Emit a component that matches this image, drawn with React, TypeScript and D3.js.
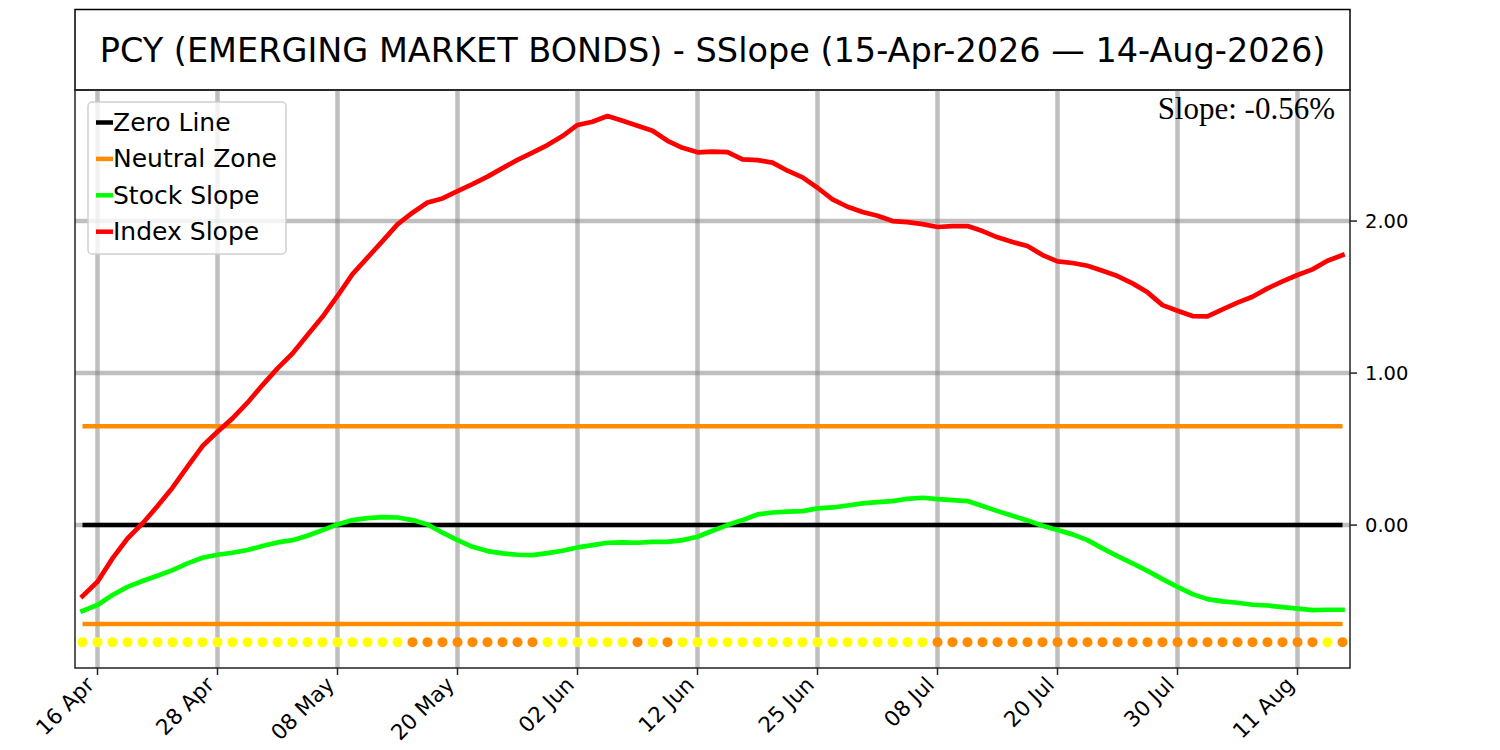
import React, { useEffect, useRef } from 'react';
import * as d3 from 'd3';

// trading days, 15-Apr-2026 .. 14-Aug-2026
const dates = [
  '2026-04-15', '2026-04-16', '2026-04-17', '2026-04-20', '2026-04-21', '2026-04-22', '2026-04-23', '2026-04-24',
  '2026-04-27', '2026-04-28', '2026-04-29', '2026-04-30', '2026-05-01', '2026-05-04', '2026-05-05', '2026-05-06',
  '2026-05-07', '2026-05-08', '2026-05-11', '2026-05-12', '2026-05-13', '2026-05-14', '2026-05-15', '2026-05-18',
  '2026-05-19', '2026-05-20', '2026-05-21', '2026-05-22', '2026-05-26', '2026-05-27', '2026-05-28', '2026-05-29',
  '2026-06-01', '2026-06-02', '2026-06-03', '2026-06-04', '2026-06-05', '2026-06-08', '2026-06-09', '2026-06-10',
  '2026-06-11', '2026-06-12', '2026-06-15', '2026-06-16', '2026-06-17', '2026-06-18', '2026-06-22', '2026-06-23',
  '2026-06-24', '2026-06-25', '2026-06-26', '2026-06-29', '2026-06-30', '2026-07-01', '2026-07-02', '2026-07-06',
  '2026-07-07', '2026-07-08', '2026-07-09', '2026-07-10', '2026-07-13', '2026-07-14', '2026-07-15', '2026-07-16',
  '2026-07-17', '2026-07-20', '2026-07-21', '2026-07-22', '2026-07-23', '2026-07-24', '2026-07-27', '2026-07-28',
  '2026-07-29', '2026-07-30', '2026-07-31', '2026-08-03', '2026-08-04', '2026-08-05', '2026-08-06', '2026-08-07',
  '2026-08-10', '2026-08-11', '2026-08-12', '2026-08-13', '2026-08-14',
];

const stockSlope = [
  -0.564, -0.526, -0.46, -0.406, -0.368, -0.333, -0.296, -0.252, -0.215, -0.195,
  -0.182, -0.164, -0.138, -0.114, -0.099, -0.07, -0.033, 0.004, 0.033, 0.046,
  0.053, 0.05, 0.033, 0.004, -0.05, -0.099, -0.143, -0.171, -0.186, -0.195,
  -0.198, -0.184, -0.169, -0.147, -0.132, -0.116, -0.114, -0.116, -0.11, -0.11,
  -0.099, -0.077, -0.037, 0.0, 0.033, 0.07, 0.083, 0.088, 0.092, 0.11,
  0.116, 0.129, 0.143, 0.151, 0.158, 0.173, 0.18, 0.171, 0.164, 0.158,
  0.125, 0.092, 0.061, 0.031, -0.004, -0.033, -0.061, -0.099, -0.153, -0.204,
  -0.252, -0.301, -0.355, -0.406, -0.454, -0.487, -0.502, -0.511, -0.524, -0.529,
  -0.539, -0.55, -0.559, -0.557, -0.557,
];

const indexSlope = [
  -0.467, -0.373, -0.219, -0.088, 0.011, 0.125, 0.246, 0.384, 0.52, 0.614,
  0.702, 0.805, 0.921, 1.031, 1.129, 1.25, 1.37, 1.507, 1.651, 1.759,
  1.868, 1.978, 2.055, 2.122, 2.149, 2.197, 2.243, 2.292, 2.348, 2.402,
  2.45, 2.5, 2.559, 2.632, 2.653, 2.691, 2.66, 2.627, 2.594, 2.528,
  2.482, 2.452, 2.456, 2.454, 2.406, 2.401, 2.384, 2.331, 2.287, 2.219,
  2.143, 2.094, 2.059, 2.035, 2.0, 1.993, 1.98, 1.961, 1.967, 1.967,
  1.934, 1.893, 1.862, 1.836, 1.776, 1.735, 1.724, 1.706, 1.673, 1.638,
  1.59, 1.531, 1.447, 1.41, 1.375, 1.373, 1.419, 1.463, 1.502, 1.557,
  1.603, 1.645, 1.682, 1.739, 1.776,
];

// 0 = yellow, 1 = orange
const zoneSignal = [
  0, 0, 0, 0, 0, 0, 0, 0, 0, 0, 0, 0, 0, 0, 0, 0, 0, 0, 0, 0, 0, 0,
  1, 1, 1, 1, 1, 1, 1, 1, 1,
  0, 0, 0, 0, 0, 0,
  1, 0, 1,
  0, 0, 0, 0, 0, 0, 0, 0, 0, 0, 0, 0, 0, 0, 0, 0, 0,
  1, 1, 1, 1, 1, 1, 1, 1, 1, 1, 1, 1, 1, 1, 1, 1, 1, 1, 1, 1, 1, 1, 1, 1, 1, 1,
  0, 1,
];

const tickDates = [
  '2026-04-16', '2026-04-28', '2026-05-08', '2026-05-20', '2026-06-02', '2026-06-12',
  '2026-06-25', '2026-07-08', '2026-07-20', '2026-07-30', '2026-08-11',
];
const yTicks = [0, 1, 2];
const neutralZone = 0.65;
const dotLevel = -0.77;
const slopeLabel = 'Slope: -0.56%';
const title = 'PCY (EMERGING MARKET BONDS) - SSlope (15-Apr-2026 \u2014 14-Aug-2026)';

const legendItems = [
  { label: 'Zero Line', color: '#000000' },
  { label: 'Neutral Zone', color: '#ff8c00' },
  { label: 'Stock Slope', color: '#00ff00' },
  { label: 'Index Slope', color: '#ff0000' },
];

const W = 1500;
const H = 750;

const App: React.FC = () => {
  const svgRef = useRef<SVGSVGElement>(null);

  useEffect(() => {
    if (!svgRef.current) return;
    const svg = d3.select(svgRef.current);
    svg.selectAll('*').remove();

    const left = 75, right = 1350, top = 90, bottom = 668;
    const sans = 'DejaVu Sans, sans-serif';

    const x = d3.scaleLinear().domain([-0.5, dates.length - 0.5]).range([left, right]);
    const y = d3.scaleLinear().domain([-0.94, 2.862]).range([bottom, top]);
    const idx = d3.range(dates.length);
    const parse = d3.timeParse('%Y-%m-%d');
    const fmt = d3.timeFormat('%d %b');

    svg.append('rect').attr('width', W).attr('height', H).attr('fill', '#fff');

    // title box
    svg.append('rect')
      .attr('x', left).attr('y', 9.5).attr('width', right - left).attr('height', top - 9.5)
      .attr('fill', '#fff').attr('stroke', '#000').attr('stroke-width', 1.5);
    svg.append('text')
      .attr('x', (left + right) / 2).attr('y', 50)
      .attr('text-anchor', 'middle').attr('dominant-baseline', 'central')
      .attr('font-family', sans).attr('font-size', 33.5)
      .text(title);

    const g = svg.append('g');

    // grid
    const tickIdx = tickDates.map(d => dates.indexOf(d));
    g.selectAll('.vgrid').data(tickIdx).enter().append('line')
      .attr('x1', d => x(d)).attr('x2', d => x(d))
      .attr('y1', top).attr('y2', bottom)
      .attr('stroke', '#808080').attr('stroke-opacity', 0.5).attr('stroke-width', 4.5);
    g.selectAll('.hgrid').data(yTicks).enter().append('line')
      .attr('x1', left).attr('x2', right)
      .attr('y1', d => y(d)).attr('y2', d => y(d))
      .attr('stroke', '#808080').attr('stroke-opacity', 0.5).attr('stroke-width', 4.5);

    const x0 = x(0), x1 = x(dates.length - 1);
    g.append('line').attr('x1', x0).attr('x2', x1).attr('y1', y(0)).attr('y2', y(0))
      .attr('stroke', '#000').attr('stroke-width', 4.5);
    [neutralZone, -neutralZone].forEach(v => {
      g.append('line').attr('x1', x0).attr('x2', x1).attr('y1', y(v)).attr('y2', y(v))
        .attr('stroke', '#ff8c00').attr('stroke-width', 4.5);
    });

    const line = d3.line<number>().x((_, i) => x(i)).y(d => y(d));
    g.append('path').datum(stockSlope)
      .attr('fill', 'none').attr('stroke', '#00ff00').attr('stroke-width', 4.7)
      .attr('stroke-linejoin', 'round').attr('stroke-linecap', 'square').attr('d', line);
    g.append('path').datum(indexSlope)
      .attr('fill', 'none').attr('stroke', '#ff0000').attr('stroke-width', 4.7)
      .attr('stroke-linejoin', 'round').attr('stroke-linecap', 'square').attr('d', line);

    g.selectAll('.dot').data(idx).enter().append('circle')
      .attr('cx', d => x(d)).attr('cy', y(dotLevel)).attr('r', 5)
      .attr('fill', d => (zoneSignal[d] ? '#ff8c00' : '#ffff00'));

    // frame
    svg.append('rect')
      .attr('x', left).attr('y', top).attr('width', right - left).attr('height', bottom - top)
      .attr('fill', 'none').attr('stroke', '#222').attr('stroke-width', 1.5);

    // x ticks
    const xt = svg.append('g');
    tickIdx.forEach((ti, k) => {
      xt.append('line').attr('x1', x(ti)).attr('x2', x(ti)).attr('y1', bottom).attr('y2', bottom + 7)
        .attr('stroke', '#222').attr('stroke-width', 1.5);
      xt.append('text')
        .attr('transform', `translate(${x(ti) - 2},${bottom + 18}) rotate(-45)`)
        .attr('text-anchor', 'end')
        .attr('font-family', sans).attr('font-size', 21.5)
        .text(fmt(parse(tickDates[k]) as Date));
    });

    // y ticks (right)
    const yt = svg.append('g');
    yTicks.forEach(v => {
      yt.append('line').attr('x1', right).attr('x2', right + 7).attr('y1', y(v)).attr('y2', y(v))
        .attr('stroke', '#222').attr('stroke-width', 1.5);
      yt.append('text')
        .attr('x', right + 15).attr('y', y(v))
        .attr('dominant-baseline', 'central')
        .attr('font-family', sans).attr('font-size', 19.5)
        .text(d3.format('.2f')(v));
    });

    // slope annotation
    svg.append('text')
      .attr('x', 1335).attr('y', 119)
      .attr('text-anchor', 'end')
      .attr('font-family', 'Liberation Serif, Times New Roman, serif').attr('font-size', 31)
      .text(slopeLabel);

    // legend
    const lg = svg.append('g');
    lg.append('rect')
      .attr('x', 88).attr('y', 102).attr('width', 198).attr('height', 152).attr('rx', 4)
      .attr('fill', '#fff').attr('fill-opacity', 0.8)
      .attr('stroke', '#d0d0d0').attr('stroke-width', 1.5);
    legendItems.forEach((it, i) => {
      const cy = 122.5 + i * 36.4;
      lg.append('line').attr('x1', 96).attr('x2', 113).attr('y1', cy).attr('y2', cy)
        .attr('stroke', it.color).attr('stroke-width', 4.5);
      lg.append('text')
        .attr('x', 113).attr('y', cy)
        .attr('dominant-baseline', 'central')
        .attr('font-family', sans).attr('font-size', 25)
        .text(it.label);
    });
  }, []);

  return (
    <svg
      ref={svgRef}
      width={W}
      height={H}
      style={{ position: 'absolute', left: 0, top: 0, display: 'block' }}
    />
  );
};

export default App;
